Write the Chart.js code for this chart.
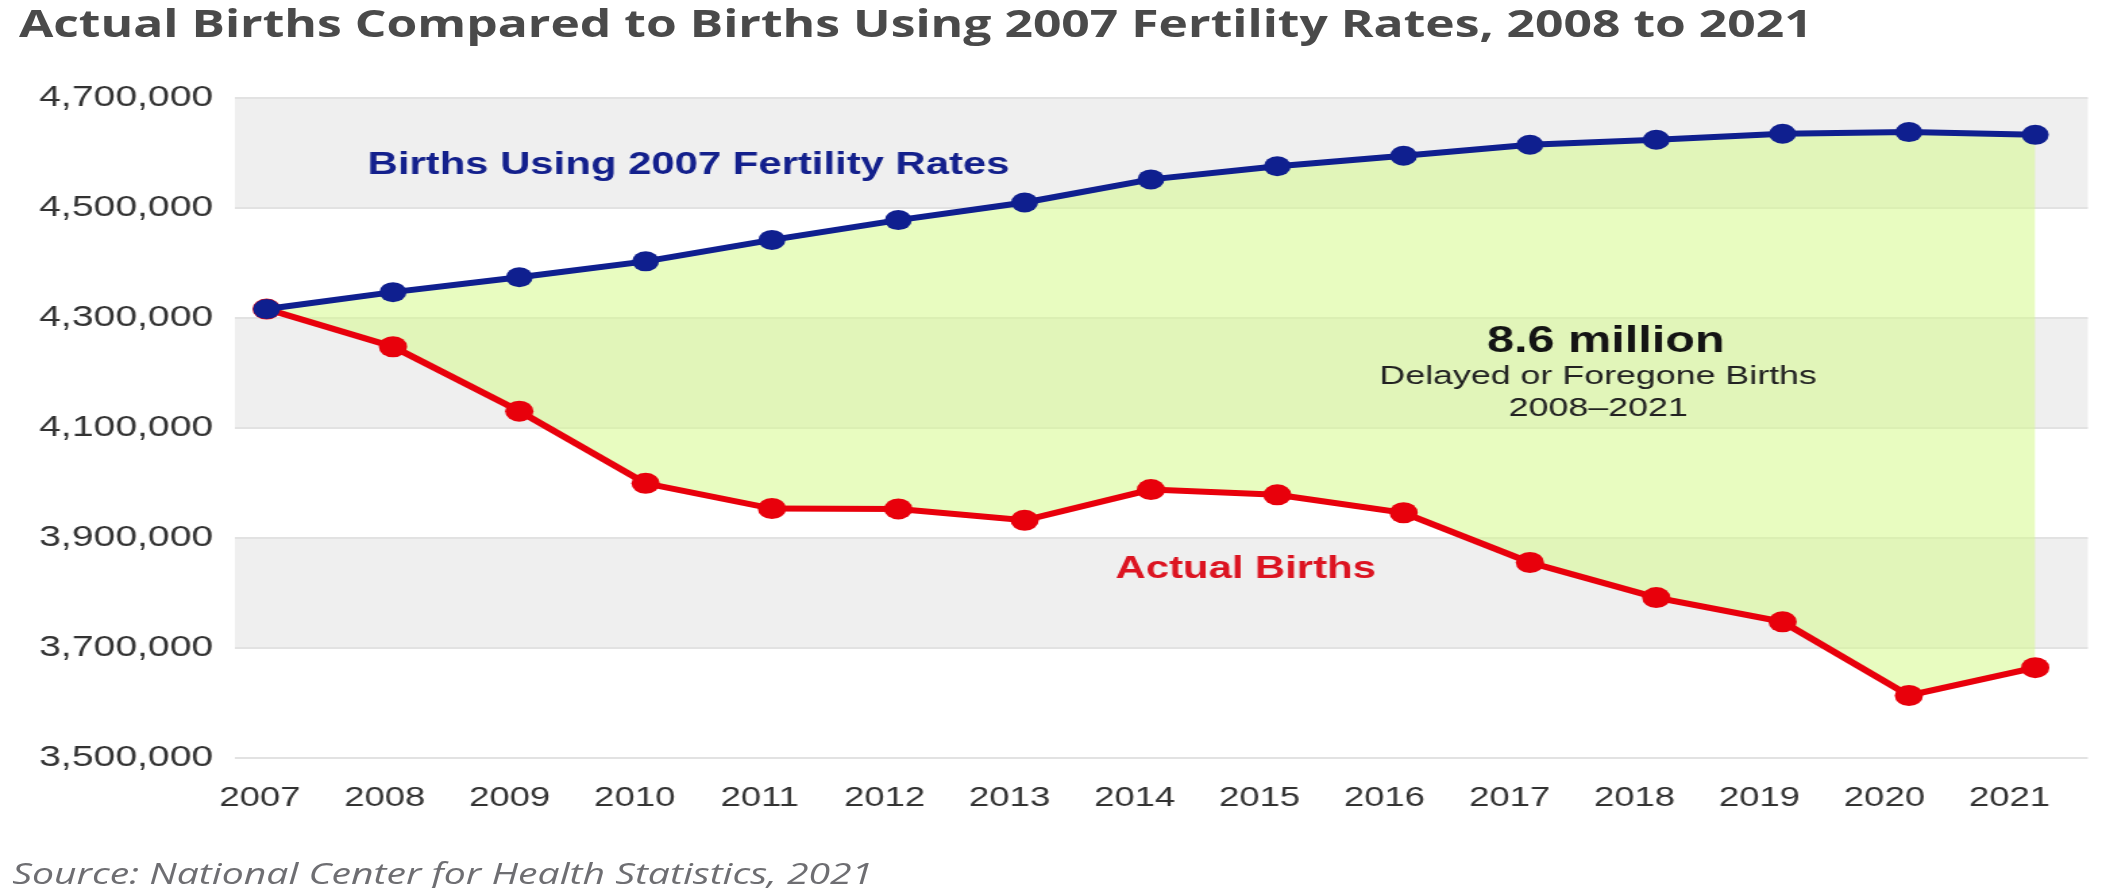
<!DOCTYPE html>
<html>
<head>
<meta charset="utf-8">
<script src="https://cdn.jsdelivr.net/npm/chart.js@4.4.1/dist/chart.umd.min.js"></script>
<style>
  html,body{margin:0;padding:0;background:#fff;overflow:hidden;}
  #page{position:absolute;left:0;top:0;width:1557px;height:888px;transform:scaleX(1.35);transform-origin:0 0;}
  #wrap{position:absolute;left:0;top:0;width:1557px;height:888px;}
  .title{position:absolute;left:14px;top:1px;font:700 36.9px "Open Sans",sans-serif;color:#4a4a4a;line-height:44px;white-space:nowrap;}
  .source{position:absolute;left:9px;top:855px;font:italic 400 29px "Open Sans",sans-serif;color:#6e6e72;line-height:36px;white-space:nowrap;}
</style>
</head>
<body>
<div id="page">
  <div id="wrap"><canvas id="births"></canvas></div>
  <div class="title">Actual Births Compared to Births Using 2007 Fertility Rates, 2008 to 2021</div>
  <div class="source">Source: National Center for Health Statistics, 2021</div>
</div>
<script>
const years = [2007, 2008, 2009, 2010, 2011, 2012, 2013, 2014, 2015, 2016, 2017, 2018, 2019, 2020, 2021];
const projectedBirths = [4316233, 4347000, 4374000, 4403000, 4442000, 4478000, 4510000, 4552000, 4576000, 4595000, 4615000, 4624000, 4635000, 4638000, 4633000];
const actualBirths = [4316233, 4247694, 4130665, 3999386, 3953590, 3952841, 3932181, 3988076, 3978497, 3945875, 3855500, 3791712, 3747540, 3613647, 3664292];
const yTicks = [3500000, 3700000, 3900000, 4100000, 4300000, 4500000, 4700000];

// text notes, anchored in data units
const notes = [
  {text: 'Births Using 2007 Fertility Rates', x: 2010.34, y: 4578000, font: 'bold 31px "Liberation Sans"', color: '#13208c'},
  {text: 'Actual Births', x: 2014.75, y: 3842000, font: 'bold 31px "Liberation Sans"', color: '#dc1421'},
  {text: '8.6 million', x: 2017.6, y: 4256000, font: 'bold 36px "Liberation Sans"', color: '#141414'},
  {text: 'Delayed or Foregone Births', x: 2017.54, y: 4193000, font: '26.5px "Liberation Sans"', color: '#222'},
  {text: '2008\u20132021', x: 2017.54, y: 4135000, font: '26.5px "Liberation Sans"', color: '#222'}
];

const toPts = vals => years.map((yr, i) => ({x: yr, y: vals[i]}));

const bands = {
  id: 'bands',
  beforeDraw(chart) {
    const {ctx, chartArea: a, scales: {y}} = chart;
    ctx.save();
    ctx.fillStyle = '#efefef';
    for (let i = 1; i < yTicks.length; i += 2) {
      const top = y.getPixelForValue(yTicks[i + 1]);
      const bot = y.getPixelForValue(yTicks[i]);
      ctx.fillRect(a.left, top, a.right - a.left, bot - top);
    }
    ctx.restore();
  }
};

const labels = {
  id: 'labels',
  afterDatasetsDraw(chart) {
    const {ctx, scales: {x, y}} = chart;
    ctx.save();
    ctx.textAlign = 'center';
    ctx.textBaseline = 'middle';
    notes.forEach(n => {
      ctx.font = n.font;
      ctx.fillStyle = n.color;
      ctx.fillText(n.text, x.getPixelForValue(n.x), y.getPixelForValue(n.y));
    });
    ctx.restore();
  }
};

new Chart(document.getElementById('births'), {
  type: 'line',
  data: {
    datasets: [
      {label: 'Births Using 2007 Fertility Rates', data: toPts(projectedBirths), borderColor: '#0f1f8f', backgroundColor: '#0f1f8f',
       borderWidth: 6, pointRadius: 10, pointBorderWidth: 0, fill: false, xAxisID: 'x'},
      {label: 'Actual Births', data: toPts(actualBirths), borderColor: '#e8000b', pointBackgroundColor: '#e8000b',
       backgroundColor: 'rgba(214,250,140,0.55)', borderWidth: 6, pointRadius: 10.5, pointBorderWidth: 0, fill: '-1', xAxisID: 'x'}
    ]
  },
  options: {
    responsive: true,
    maintainAspectRatio: false,
    animation: false,
    layout: {padding: {top: 98, left: 0, right: 0, bottom: 70}},
    plugins: {legend: {display: false}, tooltip: {enabled: false}, filler: {drawTime: 'beforeDatasetsDraw'}},
    scales: {
      x: {type: 'linear', min: 2006.749, max: 2021.416, display: false},
      xLab: {
        type: 'linear', position: 'bottom', min: 2006.801, max: 2021.627,
        afterBuildTicks: ax => { ax.ticks = years.map(v => ({value: v})); },
        afterFit: ax => { ax.height = 60; },
        grid: {display: false}, border: {display: false},
        ticks: {callback: v => String(v), font: {family: 'Liberation Sans', size: 27}, color: '#333', padding: 16, maxRotation: 0, autoSkip: false}
      },
      y: {
        min: 3500000, max: 4700000,
        afterBuildTicks: ax => { ax.ticks = yTicks.map(v => ({value: v})); },
        afterFit: ax => { ax.width = 174; },
        grid: {color: '#e2e2e2', lineWidth: 2, drawTicks: false}, border: {display: false},
        ticks: {callback: v => v.toLocaleString('en-US'), font: {family: 'Liberation Sans', size: 29}, color: '#333', padding: 16}
      }
    }
  },
  plugins: [bands, labels]
});
</script>
</body>
</html>
